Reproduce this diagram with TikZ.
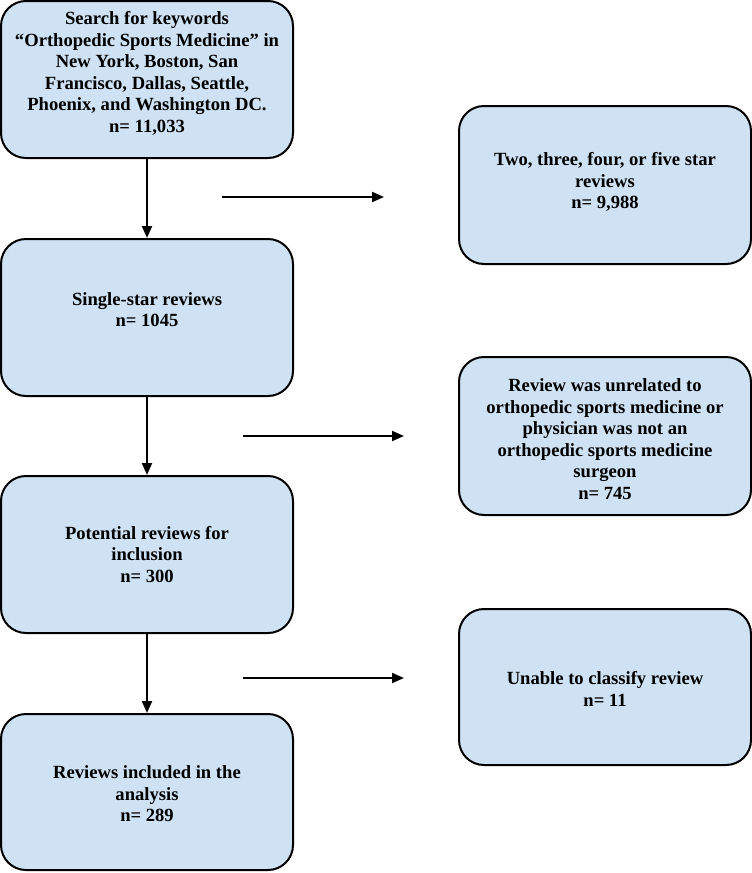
\documentclass[tikz,border=0pt]{standalone}
\usepackage{fontspec}
\setmainfont{Liberation Serif}
\usetikzlibrary{arrows.meta}
\definecolor{boxblue}{RGB}{207,226,243}
\begin{document}
\begin{tikzpicture}[x=1pt,y=-1pt,
  flowbox/.style={draw=black, line width=2pt, fill=boxblue, rounded corners=25pt,
    minimum width=292pt, minimum height=157pt, inner sep=0pt},
  boxtext/.style={align=center, inner sep=0pt,
    font=\bfseries\fontsize{18.6}{21.5}\selectfont},
  arr/.style={line width=2pt, -{Triangle[length=12pt,width=10pt]}}]
\fill[white] (0,0) rectangle (752,873);
\useasboundingbox (0,0) rectangle (752,873);
% left column
\node[flowbox] (b1) at (147,79.5) {};
\node[flowbox] (b2) at (147,317.5) {};
\node[flowbox] (b3) at (147,554.5) {};
\node[flowbox, minimum height=156pt] (b4) at (147,792) {};
% right column
\node[flowbox, minimum height=158pt] (r1) at (605,185) {};
\node[flowbox, minimum height=158pt] (r2) at (605,436) {};
\node[flowbox, minimum height=156pt] (r3) at (605,687) {};
% texts
\node[boxtext] (t1) at ([yshift=6pt]b1.center) {Search for keywords\\“Orthopedic Sports Medicine” in\\New York, Boston, San\\Francisco, Dallas, Seattle,\\Phoenix, and Washington DC.\\n= 11,033};
\node[boxtext] (t2) at ([yshift=8pt]b2.center) {Single-star reviews\\n= 1045};
\node[boxtext] (t3) at (b3.center) {Potential reviews for\\inclusion\\n= 300};
\node[boxtext] (t4) at ([yshift=-2pt]b4.center) {Reviews included in the\\analysis\\n= 289};
\node[boxtext] (t5) at ([yshift=3pt]r1.center) {Two, three, four, or five star\\reviews\\n= 9,988};
\node[boxtext] (t6) at ([yshift=-3pt]r2.center) {Review was unrelated to\\orthopedic sports medicine or\\physician was not an\\orthopedic sports medicine\\surgeon\\n= 745};
\node[boxtext] (t7) at ([yshift=-2pt]r3.center) {Unable to classify review\\n= 11};
% vertical connectors
\draw[arr] (b1) -- (b2);
\draw[arr] (b2) -- (b3);
\draw[arr] (b3) -- (b4);
% horizontal exclusion arrows
\coordinate (a1s) at (222,197);
\coordinate (a1e) at (384,197);
\coordinate (a2s) at (243,436);
\coordinate (a2e) at (404,436);
\coordinate (a3s) at (243,678);
\coordinate (a3e) at (404,678);
\draw[arr] (a1s) -- (a1e);
\draw[arr] (a2s) -- (a2e);
\draw[arr] (a3s) -- (a3e);
\end{tikzpicture}
\end{document}
